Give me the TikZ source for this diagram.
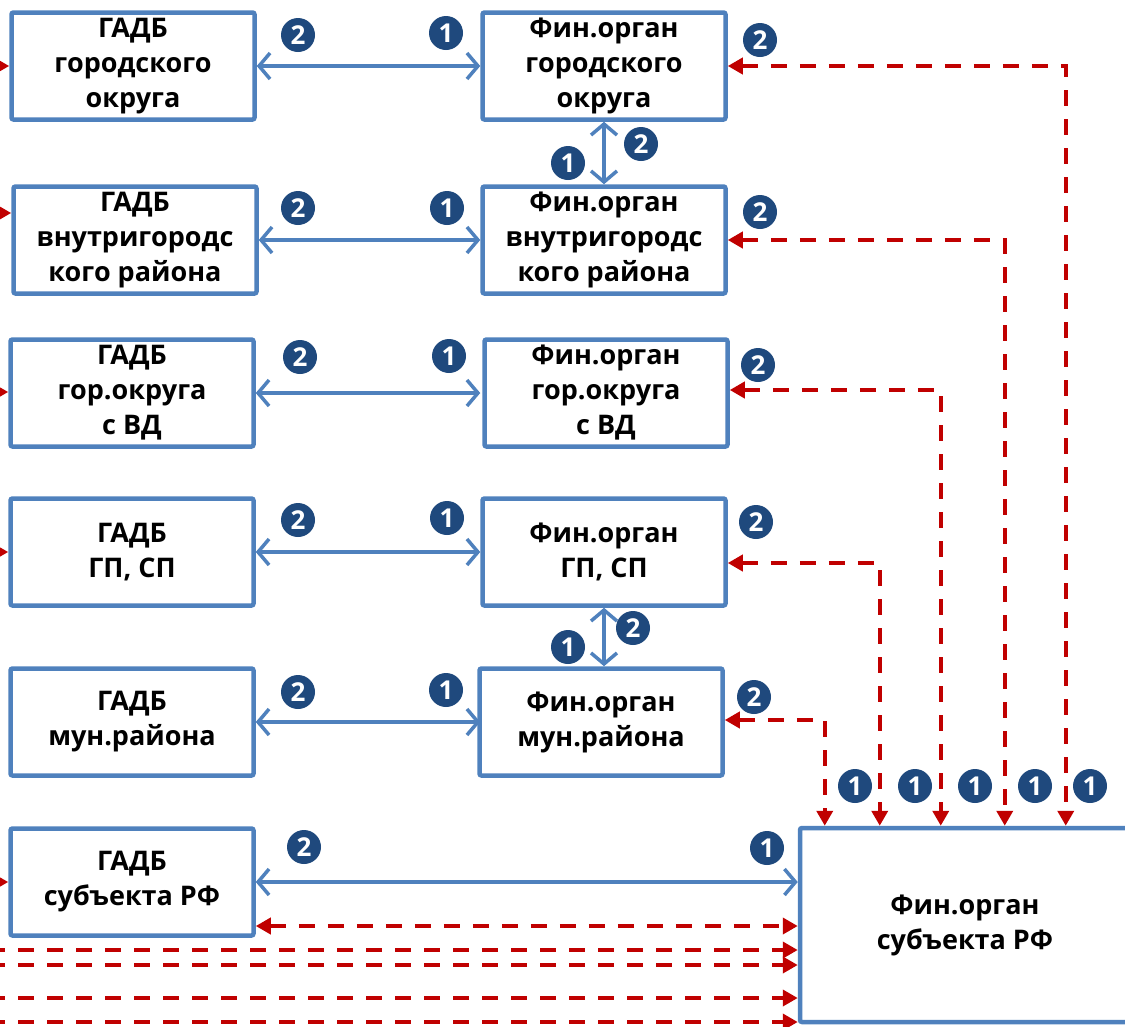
\documentclass[tikz,border=0pt]{standalone}
\usepackage{fontspec}
\setmainfont{Open Sans}
\usetikzlibrary{arrows.meta}
\definecolor{boxblue}{HTML}{4F81BD}
\definecolor{darkred}{HTML}{C00000}
\definecolor{navy}{HTML}{1F497D}
\tikzset{
  box/.style={draw=boxblue, line width=4.5pt, fill=white, rounded corners=2pt,
    minimum width=243pt, minimum height=107pt, inner sep=0pt, align=center,
    font=\bfseries\fontsize{27}{35}\selectfont},
  bluearr/.style={draw=boxblue, line width=3.5pt,
    {Straight Barb[length=11pt,width=26pt,line width=3.5pt]}-{Straight Barb[length=11pt,width=26pt,line width=3.5pt]}},
  redarr/.style={draw=darkred, line width=4pt, dash pattern=on 16pt off 13pt,
    -{Triangle[length=15pt,width=16pt]}},
  redboth/.style={redarr, {Triangle[length=15pt,width=16pt]}-{Triangle[length=15pt,width=16pt]}},
  num/.style={circle, fill=navy, text=white, minimum size=34pt, inner sep=0pt,
    font=\bfseries\fontsize{26}{26}\selectfont},
}
\begin{document}
\begin{tikzpicture}[x=1pt,y=-1pt]
        \useasboundingbox (0,0) rectangle (1125,1026);
        \clip (0,0) rectangle (1125,1026);
        \node[box] (g1) at (133,66) {ГАДБ\\городского\\округа};
        \node[box] (g2) at (135,240) {ГАДБ\\внутригородс\\кого района};
        \node[box] (g3) at (132,393) {ГАДБ\\гор.округа\\с ВД};
        \node[box] (g4) at (132,552) {ГАДБ\\ГП, СП};
        \node[box] (g5) at (132,722) {ГАДБ\\мун.района};
        \node[box] (g6) at (132,882) {ГАДБ\\субъекта РФ};
        \node[box] (f1) at (604,66) {Фин.орган\\городского\\округа};
        \node[box] (f2) at (604,240) {Фин.орган\\внутригородс\\кого района};
        \node[box] (f3) at (606,393) {Фин.орган\\гор.округа\\с ВД};
        \node[box] (f4) at (604,552) {Фин.орган\\ГП, СП};
        \node[box] (f5) at (601,722) {Фин.орган\\мун.района};
        \node[box, minimum width=330pt, minimum height=194pt] (fs) at (965,925) {Фин.орган\\субъекта РФ};
        \foreach \g in {g1,g2,g3,g4,g5}
          \draw[bluearr] (\g) -- (\g -| f1.west);
        \draw[bluearr] (g6.east) -- (g6.east -| fs.west);
        \draw[bluearr] (f1.south) -- (f2.north);
        \draw[bluearr] (f4.south) -- (f4.south |- f5.north);
        \foreach \f/\dx/\dy in {f1/268/0, f2/207/0, f3/143/3, f4/82/-11, f5/27/2}
          \draw[redboth] ([yshift=\dy pt]\f.east) -| ([xshift=\dx pt]fs.north west);
        \coordinate (r6) at (500,926);
        \draw[redboth] (r6 -| g6.east) -- (r6 -| fs.west);
        \foreach \g/\y in {g1/66, g2/213, g3/392, g4/552, g6/882} {
          \coordinate (l\g) at (-40,\y);
          \draw[redarr] (l\g) -- (l\g -| \g.west);
        }
        \foreach \y [count=\i] in {950,965,998,1022} {
          \coordinate (b\i) at (-40,\y);
          \draw[redarr] (b\i) -- (b\i -| fs.west);
        }
        \foreach \x/\y in {298/35, 298/208, 300/357, 298/520, 298/692, 304/847, 641/144, 633/628,
                           760/40, 760/212, 758/365, 756/522, 754/697}
          \node[num] at (\x,\y) {2};
        \foreach \x/\y in {446/33, 447/208, 449/356, 447/518, 446/690, 767/848, 568/163, 568/647,
                           855/786, 915/786, 975/786, 1035/786, 1090/786}
          \node[num] at (\x,\y) {1};
\end{tikzpicture}
\end{document}
